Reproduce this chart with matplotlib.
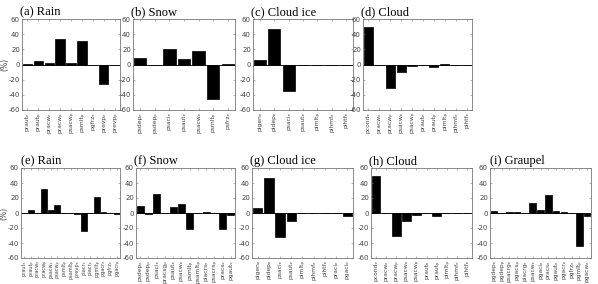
import matplotlib
matplotlib.use("Agg")
import matplotlib.pyplot as plt
from matplotlib import font_manager, ft2font
import numpy as np

W, H = 598, 284

# ---- data ----
rain_a_labels = ["praut_e", "praut_p", "pracw_e", "pracw_p", "psacw_p", "psmlt_p", "pgfrz_e", "prevp_e", "prevp_p"]
rain_a_values = [0.5, 4, 2, 34, 1.5, 31, 0, -26, 0]

snow_b_labels = ["psdep_e", "psdep_p", "psaci_e", "psaut_e", "psacw_e", "psmlt_p", "psfrz_e"]
snow_b_values = [9, 0, 20, 7, 18, -45, 0.3]

ice_c_labels = ["pigen_e", "pidep_e", "psaci_e", "psaut_e", "pimlt_p", "pihmf_e", "pihtf_e"]
ice_c_values = [6, 47, -35, -1, -0.5, 0, 0]

cloud_d_labels = ["pcond_e", "pracw_e", "pracw_p", "psacw_e", "psacw_p", "praut_e", "praut_p", "pimlt_p", "pihmf_e", "pihtf_e"]
cloud_d_values = [50, -1, -31, -10, -1.5, 0, -3.5, 0.5, 0, 0]

rain_e_labels = ["praut_e", "praut_p", "pracw_e", "pracw_p", "psacw_e", "psacw_p", "psmlt_p", "psamlt_p",
                 "prevp_e", "piacr_e", "piacr_p", "pgmlt_p", "pgacr_e", "pgfrz_e", "pgacr_p"]
rain_e_values = [0.3, 4, 0.5, 32, 4, 11, 0.5, -0.5, -1, -24, 0, 21, 2, 0, -1]

snow_f_labels = ["psdep_e", "psdep_p", "psaci_e", "pracsg_p", "psaut_e", "psacw_e", "psmlt_p", "psamlt_p",
                 "piacrs_e", "psacrs_p", "pracs_e", "pgaut_e"]
snow_f_values = [9, -1, 25, 0.5, 8, 12, -21, 0, 1.5, 0.5, -21, -3]

ice_g_labels = ["pigen_e", "pidep_e", "psaci_e", "psaut_e", "pimlt_p", "pihmf_e", "pihtf_e", "praci_e", "pgaci_e"]
ice_g_values = [7, 47, -32, -10, -0.5, 0.5, 0, 0, -4]

cloud_h_labels = ["pcond_e", "pracw_e", "pracw_p", "psacw_e", "psacw_p", "praut_e", "praut_p", "pimlt_p", "pihmf_e", "pihtf_e"]
cloud_h_values = [50, 0, -30, -11, -3, 0, -4, 0.5, 0, 0]

graupel_i_labels = ["pgdep_e", "pgdep_p", "psacrg_e", "pgacs_p", "piacrg_e", "psacw_e", "pgaci_e",
                    "pracs_e", "pgaut_e", "pgacr_e", "pgfrz_e", "pgmlt_p", "pgacw_e"]
graupel_i_values = [2.5, -0.5, 1.5, 1.5, 0.5, 14, 3.5, 24, 3, 2, 0.5, -44, -4]

titles = ["(a) Rain", "(b) Snow", "(c) Cloud ice", "(d) Cloud",
          "(e) Rain", "(f) Snow", "(g) Cloud ice", "(h) Cloud", "(i) Graupel"]
yticks = [-60, -40, -20, 0, 20, 40, 60]

panels = [
    (rain_a_labels, rain_a_values, (22, 120, 19, 110)),
    (snow_b_labels, snow_b_values, (133, 235, 19, 110)),
    (ice_c_labels, ice_c_values, (253, 353, 19, 110)),
    (cloud_d_labels, cloud_d_values, (363, 472, 19, 110)),
    (rain_e_labels, rain_e_values, (21, 120, 168, 258)),
    (snow_f_labels, snow_f_values, (136, 235, 168, 258)),
    (ice_g_labels, ice_g_values, (252, 353, 168, 258)),
    (cloud_h_labels, cloud_h_values, (371, 472, 168, 258)),
    (graupel_i_labels, graupel_i_values, (490, 591, 168, 258)),
]

# unicode subscripts if the font has them, else mathtext
SUBS = {"e": "\u2091", "p": "\u209a"}
try:
    _cmap = ft2font.FT2Font(font_manager.findfont("DejaVu Sans")).get_charmap()
    USE_UNI = all(ord(c) in _cmap for c in SUBS.values())
except Exception:
    USE_UNI = False


def fmt(lab):
    base, sub = lab.split("_")
    if USE_UNI:
        return base + SUBS[sub]
    return base + "$_{" + sub + "}$"


fig = plt.figure(figsize=(W / 100, H / 100), dpi=100)
gray = "#777777"
txt = "#444444"

for k, (labels, vals, (x0, x1, y0, y1)) in enumerate(panels):
    ax = fig.add_axes([x0 / W, 1 - y1 / H, (x1 - x0) / W, (y1 - y0) / H])
    n = len(vals)
    x = np.arange(n)
    ax.bar(x, vals, width=0.85, color="black", edgecolor="black", linewidth=0.5)
    ax.axhline(0, color="black", linewidth=0.6)
    ax.set_xlim(-0.5, n - 0.5)
    ax.set_ylim(-60, 60)
    ax.set_yticks(yticks)
    ax.set_yticklabels([str(v) for v in yticks], fontsize=5, color=txt)
    spacing = (x1 - x0) / n
    fs = min(4.3, 0.54 * spacing)
    ax.set_xticks(x)
    ax.set_xticklabels([fmt(l) for l in labels], rotation=90, fontsize=fs, color=txt)
    ax.tick_params(direction="in", length=1.5, width=0.4, top=True, right=True, colors=gray,
                   pad=1.5)
    for lab in ax.get_xticklabels() + ax.get_yticklabels():
        lab.set_color(txt)
    for s in ax.spines.values():
        s.set_color(gray)
        s.set_linewidth(0.6)
    ax.set_title(titles[k], fontsize=9, family="Liberation Serif", loc="left", pad=3,
                 x=-0.02 if k not in (4, 8) else 0.0)
    if k in (0, 4):
        ax.set_ylabel("(%)", fontsize=5.5, color=txt)
        ax.yaxis.set_label_coords(-0.125, 0.5)

fig.savefig("out.png", dpi=100)
